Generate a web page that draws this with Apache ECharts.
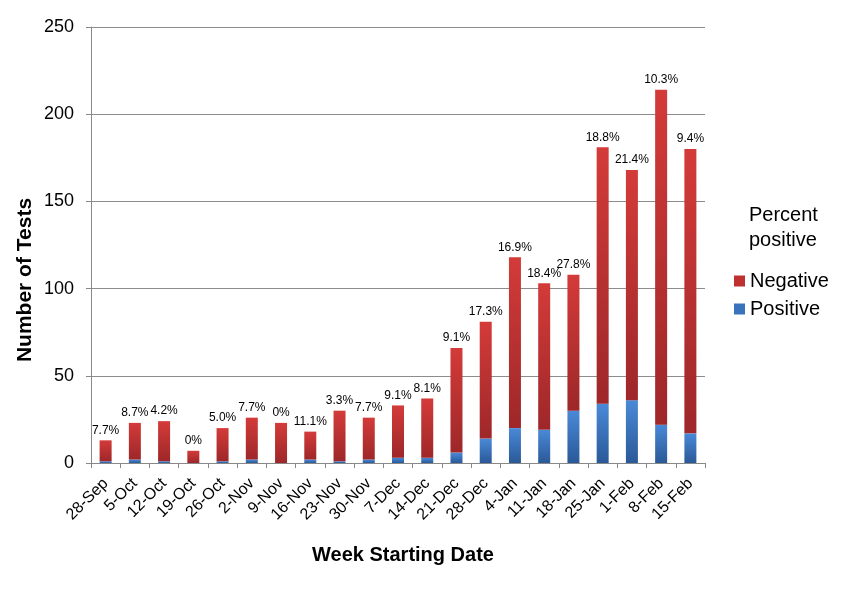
<!DOCTYPE html>
<html>
<head>
<meta charset="utf-8">
<script src="https://cdn.jsdelivr.net/npm/echarts@6/dist/echarts.min.js"></script>
<style>html,body{margin:0;padding:0;background:#fff}#c{width:842px;height:589px}</style>
</head>
<body>
<div id="c"></div>
<script>
const categories = ['28-Sep','5-Oct','12-Oct','19-Oct','26-Oct','2-Nov','9-Nov','16-Nov','23-Nov','30-Nov','7-Dec','14-Dec','21-Dec','28-Dec','4-Jan','11-Jan','18-Jan','25-Jan','1-Feb','8-Feb','15-Feb'];
const positive = [1,2,1,0,1,2,0,2,1,2,3,3,6,14,20,19,30,34,36,22,17];
const negative = [12,21,23,7,19,24,23,16,29,24,30,34,60,67,98,84,78,147,132,192,163];
const percentLabels = ['7.7%','8.7%','4.2%','0%','5.0%','7.7%','0%','11.1%','3.3%','7.7%','9.1%','8.1%','9.1%','17.3%','16.9%','18.4%','27.8%','18.8%','21.4%','10.3%','9.4%'];
const yTicks = [0,50,100,150,200,250];

const font = 'Liberation Sans, Arial, sans-serif';
const chart = echarts.init(document.getElementById('c'));
const redGrad = new echarts.graphic.LinearGradient(0,0,0,1,[{offset:0,color:'#d33b39'},{offset:1,color:'#9e2729'}]);
const blueGrad = new echarts.graphic.LinearGradient(0,0,0,1,[{offset:0,color:'#4a89d8'},{offset:1,color:'#2a5997'}]);
chart.setOption({
  animation:false,
  backgroundColor:'#fff',
  title:{text:'Percent\npositive',left:744,top:198,textStyle:{fontFamily:font,fontSize:20,fontWeight:'normal',color:'#000',lineHeight:25}},
  legend:{orient:'vertical',left:729,top:266,itemWidth:11,itemHeight:11,itemGap:8,icon:'rect',
    data:[{name:'Negative',itemStyle:{color:'#bf3030'}},{name:'Positive',itemStyle:{color:'#3a73bd'}}],
    textStyle:{fontFamily:font,fontSize:20,color:'#000'}},
  graphic:[{type:'text',x:25,y:280,rotation:Math.PI/2,
    style:{text:'Number of Tests',fontFamily:font,fontSize:21,fontWeight:'bold',fill:'#000',align:'center',verticalAlign:'middle'}}],
  grid:{left:91,right:137,top:27,bottom:126,containLabel:false},
  xAxis:{type:'category',data:categories,boundaryGap:true,
    name:'Week Starting Date',nameLocation:'middle',nameGap:82,
    nameTextStyle:{fontFamily:font,fontSize:20,fontWeight:'bold',color:'#000',padding:[0,0,0,10]},
    axisLine:{lineStyle:{color:'#888',width:1}},
    axisTick:{show:true,alignWithLabel:false,length:5,lineStyle:{color:'#888'}},
    axisLabel:{rotate:45,interval:0,fontFamily:font,fontSize:16,color:'#000',margin:18}},
  yAxis:{type:'value',min:yTicks[0],max:yTicks[yTicks.length-1],interval:50,
    axisLine:{show:true,lineStyle:{color:'#888'}},
    axisTick:{show:true,length:5,lineStyle:{color:'#888'}},
    splitLine:{lineStyle:{color:'#8c8c8c',width:1}},
    axisLabel:{fontFamily:font,fontSize:18,color:'#000',margin:17}},
  series:[
    {name:'Positive',type:'bar',stack:'t',data:positive,barWidth:12,itemStyle:{color:blueGrad}},
    {name:'Negative',type:'bar',stack:'t',data:negative,barWidth:12,itemStyle:{color:redGrad},
      label:{show:true,position:'top',distance:4,fontFamily:font,fontSize:12,color:'#000',
        formatter:p=>percentLabels[p.dataIndex]}}
  ]
});
</script>
</body>
</html>
